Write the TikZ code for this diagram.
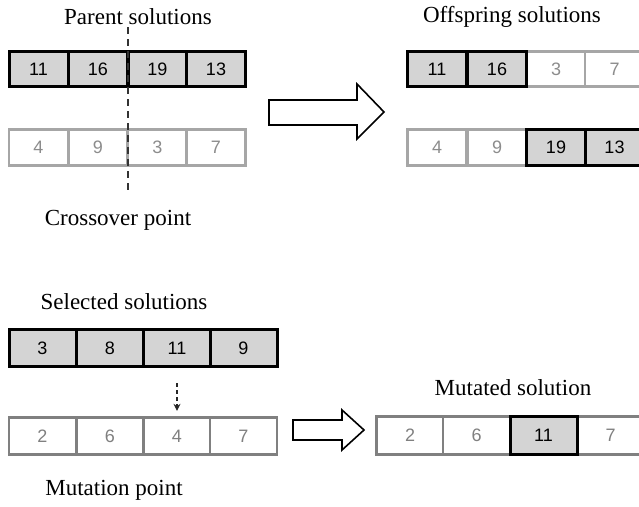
\documentclass[tikz,border=0pt]{standalone}
\usepackage{fontspec}
\setmainfont{Liberation Serif}
\newfontfamily\cellfont{Liberation Sans}
\usetikzlibrary{arrows.meta}
\definecolor{cellfill}{HTML}{D4D4D4}
\definecolor{lightline}{HTML}{A6A6A6}
\definecolor{midline}{HTML}{808080}
\definecolor{graytext}{HTML}{8C8C8C}
\tikzset{
  darkcell/.style={draw=black, line width=3pt, fill=cellfill, inner sep=0pt, font=\cellfont\fontsize{18}{18}\selectfont, text=black},
  lightcell/.style={draw=lightline, line width=2.6pt, fill=white, inner sep=0pt, font=\cellfont\fontsize{18}{18}\selectfont, text=graytext},
  midcell/.style={draw=midline, line width=2.8pt, fill=white, inner sep=0pt, font=\cellfont\fontsize{18}{18}\selectfont, text=midline},
  narrow/.style={minimum width=59pt, minimum height=35.5pt},
  wide/.style={minimum width=67pt, minimum height=37.5pt},
  title/.style={font=\fontsize{23}{23}\selectfont, text=black, inner sep=0pt},
  blockarrow/.style={draw=black, line width=1.6pt, fill=white},
}
\begin{document}
\begin{tikzpicture}[x=1pt,y=-1pt]
\useasboundingbox (0,0) rectangle (639,506);
\clip (0,0) rectangle (639,506);
% titles
\node[title] (tparent) at (138,17) {Parent solutions};
\node[title] (toff) at (512,17) {Offspring solutions};
\node[title] (tcross) at (118,220) {Crossover point};
\node[title] (tsel) at (124,302) {Selected solutions};
\node[title] (tmutd) at (513,388) {Mutated solution};
\node[title] (tmutp) at (114,490) {Mutation point};
% parent row 1
\node[darkcell,narrow] (p1) at (38.5,69) {11};
\node[darkcell,narrow] (p2) at (98,69) {16};
\node[darkcell,narrow] (p3) at (157.5,69) {19};
\node[darkcell,narrow] (p4) at (216,69) {13};
% parent row 2
\node[lightcell,narrow] (q1) at (38.5,147.5) {4};
\node[lightcell,narrow] (q2) at (98,147.5) {9};
\node[lightcell,narrow] (q3) at (157.5,147.5) {3};
\node[lightcell,narrow] (q4) at (216,147.5) {7};
% crossover line
\draw[dash pattern=on 7pt off 5pt, line width=2pt, draw=black!80] (128,27) -- (128,190);
% big arrow 1
\draw[blockarrow] (269,100) -- (357,100) -- (357,84) -- (384,112) -- (357,139) -- (357,125) -- (269,125) -- cycle;
% offspring row 1
\node[lightcell,narrow] (o3) at (556,69) {3};
\node[lightcell,narrow] (o4) at (614.5,69) {7};
\node[darkcell,narrow] (o1) at (437,69) {11};
\node[darkcell,narrow] (o2) at (497,69) {16};
% offspring row 2
\node[lightcell,narrow] (r1) at (437,147.5) {4};
\node[lightcell,narrow] (r2) at (497,147.5) {9};
\node[darkcell,narrow] (r3) at (556,147.5) {19};
\node[darkcell,narrow] (r4) at (614.5,147.5) {13};
% selected
\node[darkcell,wide] (s1) at (42.5,348) {3};
\node[darkcell,wide] (s2) at (110,348) {8};
\node[darkcell,wide] (s3) at (177,348) {11};
\node[darkcell,wide] (s4) at (243.5,348) {9};
% original for mutation
\node[midcell,wide] (u1) at (42.5,436) {2};
\node[midcell,wide] (u2) at (110,436) {6};
\node[midcell,wide] (u3) at (177,436) {4};
\node[midcell,wide] (u4) at (243.5,436) {7};
% mutation arrow
\draw[dash pattern=on 4pt off 3pt, line width=1.6pt, draw=black!85, -{Stealth[length=7pt,width=7pt]}, shorten <=15pt, shorten >=5pt] (s3.south) -- (u3.north);
% big arrow 2
\draw[blockarrow] (293,420) -- (342,420) -- (342,410) -- (364,430) -- (342,450) -- (342,440) -- (293,440) -- cycle;
% mutated
\node[midcell,wide] (m1) at (410,435.5) {2};
\node[midcell,wide] (m2) at (476.5,435.5) {6};
\node[midcell,wide] (m4) at (610.5,435.5) {7};
\node[darkcell,wide] (m3) at (543.5,435.5) {11};
\end{tikzpicture}
\end{document}
